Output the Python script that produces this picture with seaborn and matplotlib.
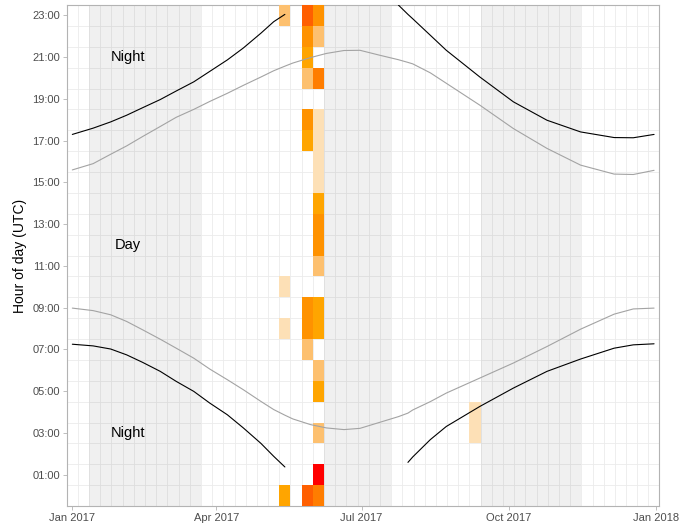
import pandas as pd
import numpy as np
import seaborn as sns
import matplotlib
matplotlib.use("Agg")
import matplotlib.pyplot as plt
import matplotlib.dates as mdates
from matplotlib.colors import LinearSegmentedColormap, Normalize

# light curves (days after 1 Jan 2017, hour UTC)
curve_days = [0, 13, 24, 34, 44, 55, 65, 76, 86, 97, 107, 118, 126, 133, 138, 149,
              159, 170, 180, 192, 204, 210, 213, 224, 234, 255, 276, 297, 318, 339, 351, 364]
nan = np.nan
sunset = [15.6, 15.9, 16.35, 16.75, 17.2, 17.68, 18.12, 18.5, 18.88, 19.27, 19.65, 20.05, 20.35, 20.57,
          20.72, 20.98, 21.18, 21.32, 21.33, 21.1, 20.88, 20.75, 20.68, 20.25, 19.75, 18.7, 17.58,
          16.63, 15.83, 15.4, 15.38, 15.58]
sunrise = [8.98, 8.86, 8.66, 8.34, 7.94, 7.49, 7.06, 6.58, 6.06, 5.55, 5.07, 4.51, 4.12, 3.85,
           3.67, 3.4, 3.24, 3.16, 3.22, 3.5, 3.78, 3.95, 4.1, 4.5, 4.91, 5.63, 6.35,
           7.14, 7.97, 8.69, 8.94, 8.98]
dusk = [17.3, 17.6, 17.9, 18.22, 18.58, 18.97, 19.38, 19.82, 20.32, 20.87, 21.44, 22.15, 22.7, 23.05,
        nan, nan, nan, nan, nan, nan, 23.5, 23.05, 22.84, 22.05, 21.33, 20.05, 18.86,
        17.98, 17.42, 17.15, 17.14, 17.3]
dawn = [7.25, 7.17, 7.02, 6.74, 6.38, 5.95, 5.47, 4.99, 4.43, 3.87, 3.24, 2.5, 1.88, 1.37,
        nan, nan, nan, nan, nan, nan, nan, 1.59, 1.85, 2.68, 3.31, 4.27, 5.15,
        5.95, 6.54, 7.06, 7.22, 7.27]

# weekly detections per hour
tile_week = (["2017-05-14"] * 4 + ["2017-05-28"] * 10 + ["2017-06-04"] * 18 + ["2017-09-10"] * 2)
tile_hour = ([23, 10, 8, 0]
             + [23, 22, 21, 20, 18, 17, 9, 8, 7, 0]
             + [23, 22, 20, 18, 17, 16, 15, 14, 13, 12, 11, 9, 8, 6, 5, 3, 1, 0]
             + [4, 3])
tile_count = ([2, 1, 1, 3]
              + [6, 4, 3, 2, 4, 3, 4, 4, 2, 6]
              + [4, 2, 5, 1, 1, 1, 1, 3, 4, 4, 2, 3, 3, 2, 3, 2, 8, 5]
              + [1, 1])

# shaded periods
band_start = ["2017-01-11 12:00", "2017-06-07 12:00", "2017-09-13 12:00"]
band_end = ["2017-03-22 12:00", "2017-07-19 12:00", "2017-11-15 12:00"]

labels = ["Night", "Day", "Night"]
label_date = ["2017-02-05", "2017-02-05", "2017-02-05"]
label_hour = [21, 12, 3]


def main():
    sns.set_theme(style="white")
    plt.rcParams["font.family"] = ["Liberation Sans", "DejaVu Sans"]

    start = pd.Timestamp("2017-01-01")
    dates = start + pd.to_timedelta(curve_days, unit="D")

    fig = plt.figure(figsize=(6.81, 5.26), dpi=100)
    ax = fig.add_axes([67 / 681, 20 / 526, 592 / 681, 501 / 526])

    for s, e in zip(band_start, band_end):
        ax.axvspan(pd.Timestamp(s), pd.Timestamp(e), color="black", alpha=0.058, lw=0, zorder=1)

    for d in pd.date_range("2016-12-28 12:00", "2018-01-03", freq="7D"):
        ax.axvline(d, color="#ebebeb", lw=0.6, zorder=0)
    for h in np.arange(0.5, 23, 1):
        ax.axhline(h, color="#ebebeb", lw=0.6, zorder=0)

    cmap = LinearSegmentedColormap.from_list(
        "det", [(0, "#fde0b6"), (1 / 7, "#fdc06e"), (2 / 7, "#ffa500"), (3 / 7, "#ff9200"),
                (4 / 7, "#ff7d00"), (5 / 7, "#ff5f00"), (1, "#ff0000")])
    norm = Normalize(1, 8)
    tiles = pd.DataFrame({"week": pd.to_datetime(tile_week), "hour": tile_hour, "n": tile_count})
    ax.bar(tiles["week"], 1, width=7, bottom=tiles["hour"] - 0.5,
           color=cmap(norm(tiles["n"])), lw=0, zorder=3)

    curves = []
    for name, vals, col in [("sunset", sunset, "gray"), ("sunrise", sunrise, "gray"),
                            ("dusk", dusk, "black"), ("dawn", dawn, "black")]:
        v = pd.Series(vals)
        seg = v.isna().cumsum()
        df = pd.DataFrame({"date": dates, "hour": v, "seg": name + seg.astype(str), "col": col})
        curves.append(df.dropna())
    curves = pd.concat(curves)

    sns.lineplot(data=curves[curves["col"] == "gray"], x="date", y="hour", units="seg",
                 estimator=None, color="#a3a3a3", lw=0.8, ax=ax, zorder=4)
    sns.lineplot(data=curves[curves["col"] == "black"], x="date", y="hour", units="seg",
                 estimator=None, color="black", lw=0.8, ax=ax, zorder=4)

    for t, d, h in zip(labels, label_date, label_hour):
        ax.text(pd.Timestamp(d), h, t, ha="center", va="center", fontsize=10.5, color="black", zorder=5)

    ax.set_xlim(pd.Timestamp("2016-12-28 16:00"), pd.Timestamp("2018-01-03 02:00"))
    ax.set_ylim(-0.5, 23.5)
    ax.set_xticks(pd.to_datetime(["2017-01-01", "2017-04-01", "2017-07-01", "2017-10-01", "2018-01-01"]))
    ax.xaxis.set_major_formatter(mdates.DateFormatter("%b %Y"))
    ax.set_yticks(range(1, 24, 2))
    ax.set_yticklabels([f"{h:02d}:00" for h in range(1, 24, 2)])
    ax.tick_params(axis="both", length=3, width=0.6, color="#b3b3b3", labelsize=8,
                   labelcolor="#4d4d4d", pad=2, bottom=True, left=True)
    ax.set_xlabel("")
    ax.set_ylabel("Hour of day (UTC)", fontsize=10, color="black", labelpad=4)
    for sp in ax.spines.values():
        sp.set_color("#b3b3b3")
        sp.set_linewidth(0.8)
    ax.grid(False)

    fig.savefig("out.png", dpi=100)


if __name__ == "__main__":
    main()
